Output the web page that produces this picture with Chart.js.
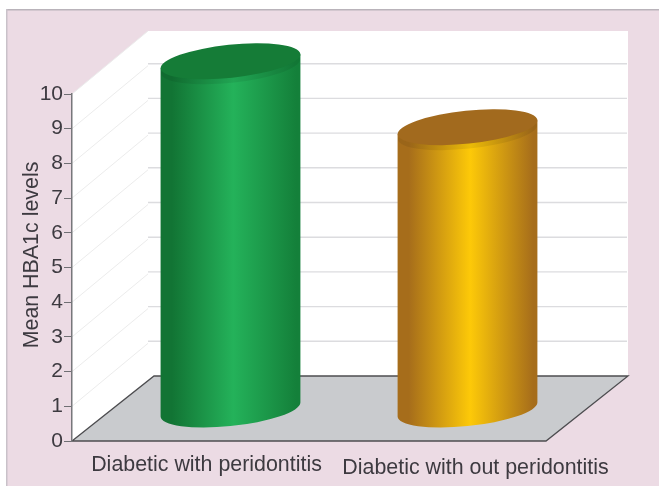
<!DOCTYPE html>
<html>
<head>
<meta charset="utf-8">
<style>
  html, body { margin: 0; padding: 0; background: #fff; }
  canvas { display: block; }
</style>
<script src="https://cdn.jsdelivr.net/npm/chart.js@4"></script>
</head>
<body>
<canvas id="chart" width="659" height="486"></canvas>
<script>
var categories = ['Diabetic with peridontitis', 'Diabetic with out peridontitis'];
var meanHba1c = [10.05, 8.15];
var yTicks = [0, 1, 2, 3, 4, 5, 6, 7, 8, 9, 10];
var yTitle = 'Mean HBA1c levels';

// cylinder colours: edge, highlight, edge, top cap
var barShades = [
    ['#127434', '#24b25a', '#14803a', '#157c37'],
    ['#a66d1b', '#fdc908', '#a66d1b', '#a26a1e']
];

var textColor = '#3d3a40';
var font = 'Liberation Sans, Arial, sans-serif';

// how far the back wall sits from the front of the floor
var depthX = 82, depthY = 65;
// the bars stand in the middle of the floor
var barShiftX = 40, barShiftY = 31;

// x axis labels do not sit under the bar centres in the original
var labelShiftX = [16, 48];
var labelY = [465, 468];

function wallsAndFloor(ctx, chart) {
    var y = chart.scales.y, left = chart.chartArea.left, right = chart.chartArea.right;
    var y0 = y.getPixelForValue(0), y10 = y.getPixelForValue(10);
    var backLeft = left + depthX, backRight = right + depthX, backFloor = y0 - depthY;

    // panel
    ctx.fillStyle = '#ecdbe4';
    ctx.fillRect(6, 9, 653, 477);
    ctx.fillStyle = '#b9b3ba';
    ctx.fillRect(6, 9, 653, 1.5);
    ctx.fillStyle = '#c9c2c9';
    ctx.fillRect(6, 9, 1.5, 477);

    // walls
    ctx.fillStyle = '#ffffff';
    ctx.beginPath();
    ctx.moveTo(left, y10);
    ctx.lineTo(backLeft - 6, y10 - depthY + 2);
    ctx.lineTo(backRight, y10 - depthY + 2);
    ctx.lineTo(backRight, backFloor);
    ctx.lineTo(backLeft, backFloor);
    ctx.lineTo(left, y0);
    ctx.closePath();
    ctx.fill();

    // wall grid lines
    yTicks.forEach(function (t) {
        if (t === 0) return;
        var py = y.getPixelForValue(t);
        ctx.strokeStyle = '#ececec';
        ctx.lineWidth = 1;
        ctx.beginPath();
        ctx.moveTo(left, py);
        ctx.lineTo(backLeft - 6, py - depthY + 2);
        ctx.stroke();
        if (t === 10) return;
        ctx.strokeStyle = '#dcdcdf';
        ctx.lineWidth = 1.4;
        ctx.beginPath();
        ctx.moveTo(backLeft - 6, py - depthY);
        ctx.lineTo(backRight - 1, py - depthY);
        ctx.stroke();
    });

    // floor
    ctx.fillStyle = '#c9cbce';
    ctx.strokeStyle = '#4d4d50';
    ctx.lineWidth = 1.3;
    ctx.beginPath();
    ctx.moveTo(left, y0);
    ctx.lineTo(backLeft, backFloor);
    ctx.lineTo(backRight, backFloor);
    ctx.lineTo(right, y0);
    ctx.closePath();
    ctx.fill();
    ctx.stroke();
}

function cylinder(ctx, bar, shades) {
    var cx = bar.x + barShiftX;
    var half = bar.width / 2;
    var top = bar.y - barShiftY, base = bar.base - barShiftY;
    var a = half * 1.005, b = half * 0.236, tilt = -6 * Math.PI / 180, t = 0.0246;

    var grad = ctx.createLinearGradient(cx - half, 0, cx + half, 0);
    grad.addColorStop(0, shades[0]);
    grad.addColorStop(0.08, shades[0]);
    grad.addColorStop(0.52, shades[1]);
    grad.addColorStop(0.97, shades[2]);
    grad.addColorStop(1, shades[2]);

    ctx.fillStyle = grad;
    ctx.beginPath();
    ctx.ellipse(cx, base, a, b, tilt, t, Math.PI + t);
    ctx.lineTo(cx - half, top + half * 0.1);
    ctx.lineTo(cx + half, top - half * 0.1);
    ctx.closePath();
    ctx.fill();

    // soft shadow under the rim
    ctx.fillStyle = 'rgba(0,0,0,0.07)';
    ctx.beginPath();
    ctx.ellipse(cx, top + 5, half, b, tilt, 0, Math.PI * 2);
    ctx.fill();

    ctx.fillStyle = shades[3];
    ctx.beginPath();
    ctx.ellipse(cx, top, a, b, tilt, 0, Math.PI * 2);
    ctx.fill();
}

var scene = {
    id: 'scene',
    beforeDraw: function (chart) {
        wallsAndFloor(chart.ctx, chart);
    },
    afterDatasetsDraw: function (chart) {
        var ctx = chart.ctx;
        chart.getDatasetMeta(0).data.forEach(function (bar, i) {
            cylinder(ctx, bar, barShades[i]);
        });
    },
    afterDraw: function (chart) {
        var ctx = chart.ctx, x = chart.scales.x;
        ctx.save();
        ctx.fillStyle = textColor;
        ctx.textAlign = 'center';
        ctx.textBaseline = 'middle';
        ctx.font = '21.4px ' + font;
        categories.forEach(function (c, i) {
            ctx.fillText(c, x.getPixelForTick(i) + labelShiftX[i], labelY[i]);
        });
        ctx.translate(32, 255);
        ctx.rotate(-Math.PI / 2);
        ctx.fillText(yTitle, 0, 0);
        ctx.restore();
    }
};

new Chart(document.getElementById('chart'), {
    type: 'bar',
    data: {
        labels: categories,
        datasets: [{
            label: yTitle,
            data: meanHba1c,
            backgroundColor: 'rgba(0,0,0,0)',
            barPercentage: 0.59,
            categoryPercentage: 1
        }]
    },
    options: {
        responsive: false,
        animation: false,
        layout: { padding: { top: 94, right: 113, bottom: 45, left: 0 } },
        plugins: { legend: { display: false }, tooltip: { enabled: false } },
        scales: {
            x: {
                afterFit: function (scale) { scale.height = 0; },
                grid: { display: false },
                border: { display: false },
                ticks: { display: false }
            },
            y: {
                min: 0,
                max: 10,
                afterFit: function (scale) { scale.width = 72; },
                afterBuildTicks: function (scale) {
                    scale.ticks = yTicks.map(function (v) { return { value: v }; });
                },
                grid: { drawOnChartArea: false, color: '#6f6f73', tickLength: 8 },
                border: { color: '#77777b', width: 1.5 },
                ticks: {
                    padding: 1,
                    color: textColor,
                    font: { family: font, size: 21 }
                }
            }
        }
    },
    plugins: [scene]
});
</script>
</body>
</html>
